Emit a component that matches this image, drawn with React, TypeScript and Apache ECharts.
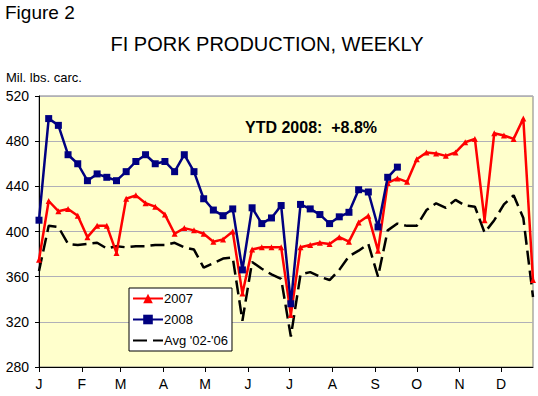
import React, { useEffect, useRef } from "react";
import * as echarts from "echarts";

const monthLabels = ["J", "F", "M", "A", "M", "J", "J", "A", "S", "O", "N", "D"];
const monthStartDays = [0, 31, 59, 90, 120, 151, 181, 212, 243, 273, 304, 334];
const weekStepDays = 7;

const y2007 = [375, 427, 418, 420, 414, 395, 405, 405, 381, 429, 432, 425, 422, 415, 398, 403, 401, 398, 391, 393, 400, 345, 384, 386, 386, 386, 326, 386, 388, 390, 389, 395, 391, 408, 414, 383, 443, 447, 444, 464, 470, 469, 467, 470, 479, 482, 410, 487, 485, 482, 500, 357];
const y2008 = [410, 500, 494, 468, 460, 445, 451, 448, 445, 453, 462, 468, 460, 462, 453, 468, 453, 429, 419, 414, 420, 366, 421, 407, 412, 423, 336, 424, 420, 415, 407, 413, 417, 437, 435, 404, 448, 457];
const yAvg = [365, 405, 404, 389, 388, 389, 390, 385, 387, 386, 387, 387, 388, 388, 390, 386, 384, 368, 372, 376, 377, 321, 373, 367, 362, 358, 307, 362, 364, 360, 357, 366, 378, 383, 389, 360, 401, 407, 405, 405, 419, 425, 421, 428, 423, 422, 399, 410, 424, 432, 412, 342];

const seriesNames = ["2007", "2008", "Avg '02-'06"];
const FONT = 'Arial, "Liberation Sans", sans-serif';

const toPoints = (arr: number[]) => arr.map((v, i) => [i * weekStepDays, v]);

export default function App() {
  const ref = useRef<HTMLDivElement>(null);
  useEffect(() => {
    document.body.style.margin = "0";
    const chart = echarts.init(ref.current!, null, { renderer: "svg" });
    chart.setOption({
      animation: false,
      backgroundColor: "#ffffff",
      textStyle: { fontFamily: FONT },
      graphic: [
        { type: "text", left: 5, top: 3, style: { text: "Figure 2", font: `19px ${FONT}`, fill: "#000" } },
        { type: "text", x: 267, y: 34, style: { text: "FI PORK PRODUCTION, WEEKLY", font: `20px ${FONT}`, fill: "#000", textAlign: "center", textVerticalAlign: "top" } },
        { type: "text", left: 6, top: 71, style: { text: "Mil. lbs. carc.", font: `13px ${FONT}`, fill: "#000" } },
        { type: "text", left: 245, top: 119, z: 10, style: { text: "YTD 2008:  +8.8%", font: `bold 16px ${FONT}`, fill: "#000" } },
      ],
      grid: {
        left: 39, right: 5, top: 96, bottom: 29,
        show: true, backgroundColor: "#FFFFCC", borderColor: "#808080", borderWidth: 1,
      },
      legend: {
        data: [
          { name: seriesNames[0] },
          { name: seriesNames[1] },
          { name: seriesNames[2], itemStyle: { opacity: 0 } },
        ],
        orient: "vertical",
        left: 129, top: 288,
        backgroundColor: "#ffffff",
        borderColor: "#000000",
        borderWidth: 1,
        borderRadius: 0,
        padding: [4, 4, 4, 3],
        itemWidth: 30,
        itemHeight: 12,
        itemGap: 8,
        textStyle: { fontSize: 13, fontFamily: FONT, color: "#000", padding: [0, 0, 0, -4] },
      },
      xAxis: {
        type: "value",
        min: 0,
        max: 357,
        axisLine: { show: true, lineStyle: { color: "#000", width: 1 } },
        axisTick: { show: true, length: 5, lineStyle: { color: "#000" }, customValues: monthStartDays },
        axisLabel: {
          fontSize: 14, color: "#000", fontFamily: FONT, margin: 10,
          customValues: monthStartDays,
          formatter: (v: number) => {
            const idx = monthStartDays.indexOf(Math.round(v));
            return idx >= 0 ? monthLabels[idx] : "";
          },
        },
        splitLine: { show: false },
      },
      yAxis: {
        type: "value",
        min: 280,
        max: 520,
        interval: 40,
        axisLine: { show: true, lineStyle: { color: "#000", width: 1 } },
        axisTick: { show: true, length: 4, lineStyle: { color: "#000" } },
        axisLabel: { fontSize: 14, color: "#000", fontFamily: FONT, margin: 10 },
        splitLine: { show: true, lineStyle: { color: "#b0b0b8", width: 1 } },
      },
      series: [
        {
          name: seriesNames[2], type: "line", data: toPoints(yAvg), symbol: "none", z: 2,
          lineStyle: { color: "#000", width: 2.5, type: [14, 6] }, itemStyle: { color: "#000" },
        },
        {
          name: seriesNames[0], type: "line", data: toPoints(y2007), symbol: "triangle", symbolSize: 6, z: 3,
          lineStyle: { color: "#FF0000", width: 2.5 }, itemStyle: { color: "#FF0000" },
        },
        {
          name: seriesNames[1], type: "line", data: toPoints(y2008), symbol: "rect", symbolSize: 7, z: 4,
          lineStyle: { color: "#000080", width: 2.5 }, itemStyle: { color: "#000080" },
        },
      ],
    });
    return () => chart.dispose();
  }, []);
  return <div ref={ref} style={{ width: 538, height: 396 }} />;
}
